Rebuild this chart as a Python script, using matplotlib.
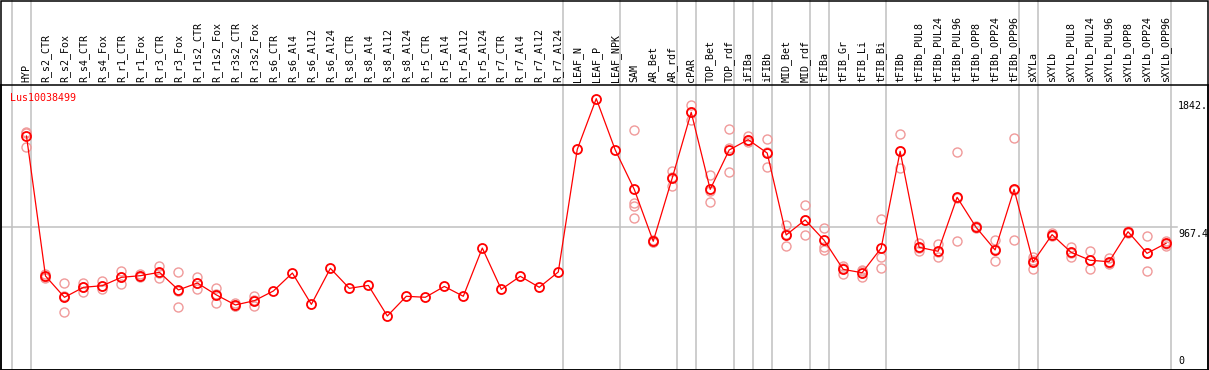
import numpy as np
import matplotlib
matplotlib.use('Agg')
from matplotlib import pyplot as plt

samples = ['HYP', 'R_s2_CTR', 'R_s2_Fox', 'R_s4_CTR', 'R_s4_Fox', 'R_r1_CTR', 'R_r1_Fox',
           'R_r3_CTR', 'R_r3_Fox', 'R_r1s2_CTR', 'R_r1s2_Fox', 'R_r3s2_CTR', 'R_r3s2_Fox',
           'R_s6_CTR', 'R_s6_Al4', 'R_s6_Al12', 'R_s6_Al24', 'R_s8_CTR', 'R_s8_Al4',
           'R_s8_Al12', 'R_s8_Al24', 'R_r5_CTR', 'R_r5_Al4', 'R_r5_Al12', 'R_r5_Al24',
           'R_r7_CTR', 'R_r7_Al4', 'R_r7_Al12', 'R_r7_Al24', 'LEAF_N', 'LEAF_P', 'LEAF_NPK',
           'SAM', 'AR_Bet', 'AR_rdf', 'cPAR', 'TOP_Bet', 'TOP_rdf', 'iFIBa', 'iFIBb',
           'MID_Bet', 'MID_rdf', 'tFIBa', 'tFIB_Gr', 'tFIB_Li', 'tFIB_Bi', 'tFIBb',
           'tFIBb_PUL8', 'tFIBb_PUL24', 'tFIBb_PUL96', 'tFIBb_OPP8', 'tFIBb_OPP24',
           'tFIBb_OPP96', 'sXYLa', 'sXYLb', 'sXYLb_PUL8', 'sXYLb_PUL24', 'sXYLb_PUL96',
           'sXYLb_OPP8', 'sXYLb_OPP24', 'sXYLb_OPP96']

means = [1588, 636, 491, 559, 570, 627, 638, 661, 541, 588, 507, 439, 468,
         534, 656, 443, 688, 552, 572, 364, 498, 491, 565, 498, 826,
         545, 634, 559, 663, 1497, 1842, 1493,
         1225, 872, 1302, 1749, 1225, 1493, 1563, 1472,
         915, 1017, 879, 681, 658, 826, 1484,
         831, 804, 1171, 967, 813, 1225,
         731, 917, 797, 743, 733, 937, 790, 858]

replicates = [[1617, 1606, 1511], [650, 630, 625], [586, 389, 498], [590, 525, 562],
              [600, 545, 565], [672, 579, 630], [650, 630, 634], [706, 620, 657],
              [663, 423, 537], [631, 547, 586], [556, 450, 515], [452, 430, 435],
              [498, 434, 472],
              [], [], [], [], [], [], [], [], [], [], [], [], [], [], [], [],
              [], [], [],
              [1627, 1134, 1112, 1030], [880, 865, 870], [1352, 1246, 1308],
              [1799, 1697, 1751], [1321, 1137, 1217], [1633, 1341, 1505],
              [1585, 1545, 1560], [1565, 1375, 1476], [981, 840, 924], [1117, 915, 1019],
              [962, 835, 813], [706, 647, 690], [679, 627, 668], [1023, 763, 688],
              [1599, 1368, 1485], [858, 808, 827], [853, 763, 796], [1477, 872, 1164],
              [975, 960, 966], [881, 736, 822], [1572, 879, 1224],
              [767, 681, 745], [925, 910, 916], [835, 763, 793], [804, 681, 744],
              [760, 715, 724], [945, 930, 936], [906, 672, 792], [876, 842, 856]]

# index of last sample in each group
group_ends = [-1, 0, 28, 31, 34, 35, 37, 38, 39, 41, 42, 45, 52, 53, 60]
ytick_vals = [1842, 967.4, 0]
ytick_text = ['1842.', '967.4', '0']
gene = 'Lus10038499'

W, H = 1209, 370
fig = plt.figure(figsize=(W / 100, H / 100), dpi=100)
top_px, bot_px = 85, 369.5
ax = fig.add_axes([0.5 / W, (H - bot_px) / H, 1207.5 / W, (bot_px - top_px) / H])
ax.set_xlim(-26 / 19, (1208 - 26) / 19)
ax.set_ylim(0, 1934.8)
ax.set_xticks([])
ax.set_yticks([])
for s in ax.spines.values():
    s.set_linewidth(1.1)
    s.set_color('black')

mono = 'DejaVu Sans Mono'
x = np.arange(len(samples))
grey = '#c0c0c0'

# group separators span the whole picture
ytop = (bot_px - 0) / (bot_px - top_px)
for g in group_ends:
    ax.axvline(g + 0.24, ymin=0, ymax=ytop, color=grey, lw=1.1, clip_on=False, zorder=0)

# mid gridline
ax.plot([ax.get_xlim()[0], (1177 - 26) / 19], [967.4, 967.4], color=grey, lw=1.1, zorder=0)

# replicates
for i, reps in enumerate(replicates):
    if reps:
        ax.plot([i] * len(reps), reps, 'o', ms=6.5, mfc='none', mec='#f09a9a', mew=1.0,
                zorder=2, clip_on=False)

ax.plot(x, means, '-', color='red', lw=0.9, zorder=3)
ax.plot(x, means, 'o', ms=6.5, mfc='none', mec='red', mew=1.3, zorder=4)

# sample labels above
trans = ax.get_xaxis_transform()
for i, name in enumerate(samples):
    ax.text(i, 1 + 2.5 / (bot_px - top_px), name, rotation=90, ha='center', va='bottom',
            fontsize=7.2, family=mono, transform=trans, clip_on=False)

# value labels at right
xl = (1178 - 26) / 19
for v, t in zip(ytick_vals, ytick_text):
    if v == 0:
        ax.text(xl, v + 25, t, ha='left', va='bottom', fontsize=7.2, family=mono)
    else:
        ax.text(xl, v - 15, t, ha='left', va='top', fontsize=7.2, family=mono)

ax.text(-16 / 19, 1 - 8 / (bot_px - top_px), gene, color='red', ha='left', va='top',
        fontsize=7.2, family=mono, transform=trans)

# outer frame of the picture
fig.patches.append(plt.Rectangle((0.5 / W, 0.5 / H), 1207.5 / W, (H - 1) / H,
                                 transform=fig.transFigure, fill=False,
                                 edgecolor='black', lw=1.1))

fig.savefig('out.png', dpi=100)
